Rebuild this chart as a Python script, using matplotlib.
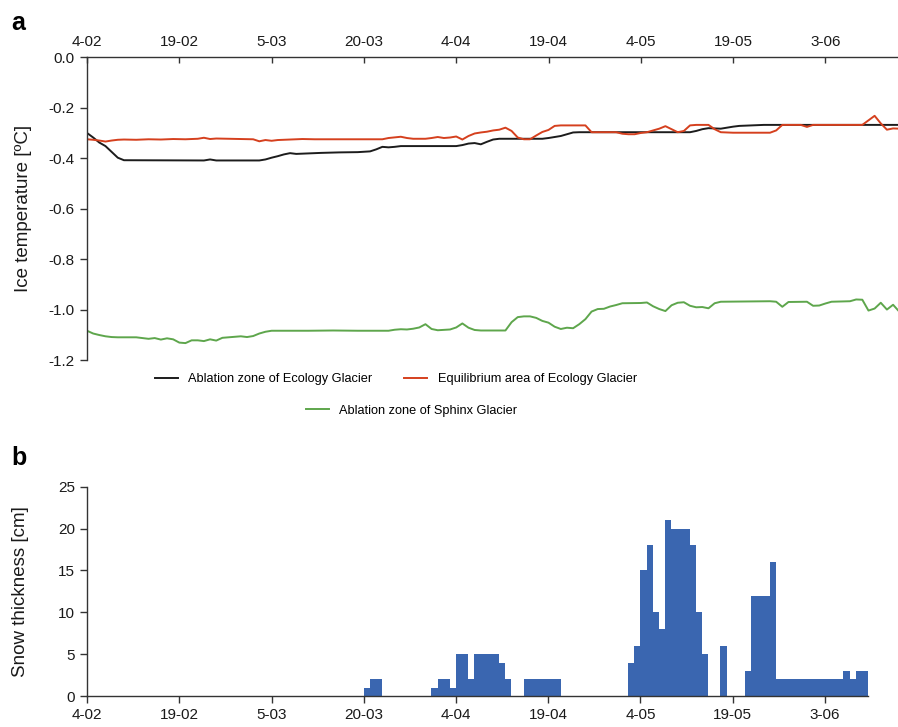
import numpy as np
import matplotlib
matplotlib.use('Agg')
from matplotlib import pyplot as plt
from matplotlib.lines import Line2D

plt.rcParams['font.family'] = ['Liberation Sans', 'DejaVu Sans']

# dias desde 4-02 (año bisiesto)
tick_dias = [0, 15, 30, 45, 60, 75, 90, 105, 120]
tick_txt = ['4-02', '19-02', '5-03', '20-03', '4-04', '19-04', '4-05', '19-05', '3-06']

# ---- panel a: temperatura del hielo
dias_negro = [0, 1, 2, 3, 4, 5, 6, 19, 20, 21, 28, 29, 30, 31, 32, 33, 34, 35, 37, 38, 41, 44,
              46, 47, 48, 49, 50, 51, 60, 61, 62, 63, 64, 65, 66, 67, 74, 75, 76, 77, 78, 79,
              80, 98, 99, 100, 101, 102, 103, 104, 105, 106, 108, 110, 132]
temp_negro = [-0.300, -0.318, -0.338, -0.352, -0.375, -0.398, -0.408, -0.409, -0.405, -0.409,
              -0.409, -0.405, -0.398, -0.392, -0.385, -0.380, -0.383, -0.382, -0.380, -0.379,
              -0.377, -0.376, -0.373, -0.365, -0.355, -0.357, -0.355, -0.352, -0.352, -0.348,
              -0.342, -0.340, -0.345, -0.335, -0.326, -0.323, -0.323, -0.320, -0.316, -0.312,
              -0.305, -0.298, -0.297, -0.297, -0.292, -0.285, -0.281, -0.282, -0.283, -0.279,
              -0.275, -0.272, -0.270, -0.268, -0.268]

dias_rojo = [0, 1, 2, 3, 4, 5, 6, 8, 10, 12, 14, 16, 18, 19, 20, 21, 23, 25, 27, 28, 29, 30,
             31, 33, 35, 37, 40, 44, 48, 49, 51, 52, 53, 55, 56, 57, 58, 59, 60, 61, 62, 63,
             64, 65, 66, 67, 68, 69, 70, 71, 72, 73, 74, 75, 76, 77, 81, 82, 86, 87, 88, 89,
             90, 91, 92, 93, 94, 95, 96, 97, 98, 99, 101, 102, 103, 105, 108, 111, 112, 113,
             116, 117, 118, 126, 127, 128, 129, 130, 131, 132]
temp_rojo = [-0.325, -0.327, -0.330, -0.334, -0.330, -0.327, -0.326, -0.327, -0.325, -0.326,
             -0.324, -0.325, -0.323, -0.319, -0.324, -0.322, -0.323, -0.324, -0.325, -0.333,
             -0.328, -0.331, -0.328, -0.326, -0.324, -0.325, -0.325, -0.325, -0.325, -0.320,
             -0.315, -0.320, -0.323, -0.323, -0.320, -0.316, -0.320, -0.318, -0.314, -0.326,
             -0.312, -0.302, -0.298, -0.295, -0.290, -0.287, -0.279, -0.292, -0.318, -0.325,
             -0.325, -0.310, -0.296, -0.288, -0.272, -0.270, -0.270, -0.297, -0.297, -0.303,
             -0.305, -0.305, -0.300, -0.297, -0.290, -0.283, -0.273, -0.285, -0.297, -0.292,
             -0.270, -0.268, -0.268, -0.285, -0.297, -0.299, -0.299, -0.299, -0.290, -0.268,
             -0.268, -0.276, -0.268, -0.268, -0.250, -0.232, -0.262, -0.287, -0.282, -0.283]

dias_verde = [0, 1, 2, 3, 4, 5, 8, 9, 10, 11, 12, 13, 14, 15, 16, 17, 18, 19, 20, 21, 22, 23,
              25, 26, 27, 28, 29, 30, 36, 40, 44, 49, 50, 51, 52, 53, 54, 55, 56, 57, 59, 60,
              61, 62, 63, 64, 68, 69, 70, 71, 72, 73, 74, 75, 76, 77, 78, 79, 80, 81, 82, 83,
              84, 85, 86, 87, 90, 91, 92, 93, 94, 95, 96, 97, 98, 99, 100, 101, 102, 103, 111,
              112, 113, 114, 117, 118, 119, 120, 121, 124, 125, 126, 127, 128, 129, 130, 131, 132]
temp_verde = [-1.084, -1.095, -1.101, -1.106, -1.109, -1.110, -1.110, -1.113, -1.116, -1.113,
              -1.119, -1.114, -1.118, -1.131, -1.133, -1.122, -1.122, -1.125, -1.118, -1.123,
              -1.112, -1.110, -1.106, -1.109, -1.105, -1.095, -1.088, -1.084, -1.084, -1.083,
              -1.084, -1.084, -1.080, -1.078, -1.079, -1.076, -1.071, -1.058, -1.077, -1.082,
              -1.079, -1.071, -1.055, -1.072, -1.081, -1.083, -1.083, -1.050, -1.030, -1.027,
              -1.027, -1.033, -1.045, -1.052, -1.068, -1.077, -1.072, -1.074, -1.058, -1.038,
              -1.008, -0.998, -0.997, -0.988, -0.982, -0.975, -0.974, -0.972, -0.987, -0.998,
              -1.006, -0.983, -0.973, -0.971, -0.985, -0.991, -0.990, -0.995, -0.975, -0.969,
              -0.967, -0.969, -0.989, -0.970, -0.969, -0.985, -0.984, -0.976, -0.969, -0.967,
              -0.960, -0.961, -1.004, -0.996, -0.973, -1.000, -0.981, -1.008]

# ---- panel b: espesor de nieve
dias_nieve = [45, 46, 47, 56, 57, 58, 59, 60, 61, 62, 63, 64, 65, 66, 67, 68,
              71, 72, 73, 74, 75, 76, 88, 89, 90, 91, 92, 93, 94, 95, 96, 97, 98, 99, 100,
              103, 107, 108, 109, 110, 111, 112, 113, 114, 115, 116, 117, 118, 119, 120,
              121, 122, 123, 124, 125, 126]
nieve_cm = [1, 2, 2, 1, 2, 2, 1, 5, 5, 2, 5, 5, 5, 5, 4, 2,
            2, 2, 2, 2, 2, 2, 4, 6, 15, 18, 10, 8, 21, 20, 20, 20, 18, 10, 5,
            6, 3, 12, 12, 12, 16, 2, 2, 2, 2, 2, 2, 2, 2, 2,
            2, 2, 3, 2, 3, 3]

fig = plt.figure(figsize=(8.98, 7.27), dpi=100)

# panel a
ax1 = fig.add_axes([0.0969, 0.5048, 0.9031, 0.4164])
ax1.plot(dias_negro, temp_negro, color='#1c1c1c', lw=1.4)
ax1.plot(dias_rojo, temp_rojo, color='#d5401e', lw=1.4)
ax1.plot(dias_verde, temp_verde, color='#5ea64c', lw=1.4)
ax1.set_xlim(0, 131.8)
ax1.set_ylim(-1.2, 0)
ax1.set_yticks(np.arange(-1.2, 0.01, 0.2))
ax1.set_yticklabels(['-1.2', '-1.0', '-0.8', '-0.6', '-0.4', '-0.2', '0.0'])
ax1.set_xticks(tick_dias)
ax1.set_xticklabels(tick_txt)
ax1.xaxis.tick_top()
ax1.spines['bottom'].set_visible(False)
ax1.spines['right'].set_visible(False)
for s in ['top', 'left']:
    ax1.spines[s].set_color('#333333')
    ax1.spines[s].set_linewidth(1.0)
ax1.tick_params(axis='x', direction='in', length=4, width=1, colors='#333333',
                labelsize=11, labelcolor='#1a1a1a', pad=6)
ax1.tick_params(axis='y', direction='out', length=5, width=1, colors='#333333',
                labelsize=11, labelcolor='#1a1a1a', pad=4)
ax1.set_ylabel('Ice temperature [ºC]', fontsize=13.5, color='#1a1a1a', labelpad=12)

h = [Line2D([], [], color='#1c1c1c', lw=1.4),
     Line2D([], [], color='#d5401e', lw=1.4),
     Line2D([], [], color='#5ea64c', lw=1.4)]
lab = ['Ablation zone of Ecology Glacier', 'Equilibrium area of Ecology Glacier',
       'Ablation zone of Sphinx Glacier']
fig.legend(h[:2], lab[:2], ncol=2, loc='center', bbox_to_anchor=(0.441, 0.4787),
           frameon=False, fontsize=9.2, handlelength=1.8, handletextpad=0.8,
           columnspacing=2.5)
fig.legend(h[2:], lab[2:], loc='center', bbox_to_anchor=(0.458, 0.435),
           frameon=False, fontsize=9.2, handlelength=1.8, handletextpad=0.8)

# panel b
ax2 = fig.add_axes([0.0969, 0.0426, 0.8697, 0.2879])
ax2.bar(dias_nieve, nieve_cm, width=1, align='edge', color='#3a66b0', edgecolor='none')
ax2.set_xlim(0, 127)
ax2.set_ylim(0, 25)
ax2.set_yticks([0, 5, 10, 15, 20, 25])
ax2.set_xticks(tick_dias)
ax2.set_xticklabels(tick_txt)
ax2.spines['top'].set_visible(False)
ax2.spines['right'].set_visible(False)
for s in ['bottom', 'left']:
    ax2.spines[s].set_color('#333333')
    ax2.spines[s].set_linewidth(1.0)
ax2.tick_params(axis='both', direction='out', length=5, width=1, colors='#333333',
                labelsize=11, labelcolor='#1a1a1a')
ax2.set_ylabel('Snow thickness [cm]', fontsize=13.5, color='#1a1a1a', labelpad=21)

fig.text(0.013, 0.968, 'a', fontsize=18, fontweight='bold', va='center')
fig.text(0.013, 0.370, 'b', fontsize=18, fontweight='bold', va='center')

plt.savefig('out.png', dpi=100)
